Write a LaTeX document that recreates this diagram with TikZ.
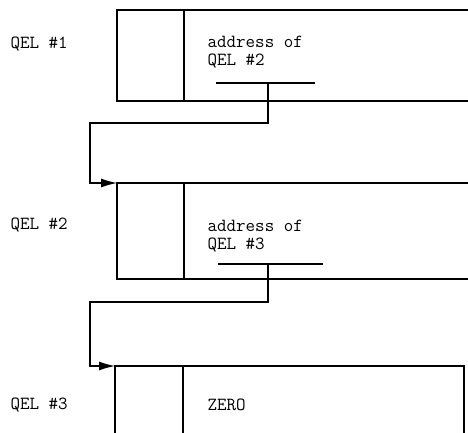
\documentclass[tikz,border=0pt]{standalone}
\usetikzlibrary{arrows.meta}
\begin{document}
\begin{tikzpicture}[x=1pt,y=-1pt,line width=1.2pt,
  txt/.style={font=\ttfamily\fontsize{18.5}{18}\selectfont,anchor=west,inner sep=0pt,align=left},
  link/.style={-{Latex[length=16pt,width=9pt]}}]
  \useasboundingbox (0,0) rectangle (468,433);

  % first element
  \node[txt] (name1) at (10,44) {QEL \#1};
  \draw (468,10) -- (117,10) -- (117,101) -- (468,101);
  \draw (184,10) -- (184,101);
  \node[txt] (addr1) at (207,52) {address of\\QEL \#2};
  \draw (216,83) -- (315,83);
  \coordinate (ptr1) at (268,83);

  % second element
  \node[txt] (name2) at (10,225) {QEL \#2};
  \draw (468,183) -- (117,183) -- (117,279) -- (468,279);
  \draw (184,183) -- (184,279);
  \node[txt] (addr2) at (207,236) {address of\\QEL \#3};
  \draw (218,264) -- (323,264);
  \coordinate (ptr2) at (268,264);

  % third element
  \node[txt] (name3) at (10,405) {QEL \#3};
  \draw (115,433) -- (115,366) -- (464,366) -- (464,433);
  \draw (183,366) -- (183,433);
  \node[txt] (zero3) at (207,405) {ZERO};

  % links
  \coordinate (bend1) at (90,123);
  \coordinate (in2) at (117,183);
  \draw[link] (ptr1) |- (bend1) |- (in2);
  \coordinate (bend2) at (90,302);
  \coordinate (in3) at (115,366);
  \draw[link] (ptr2) |- (bend2) |- (in3);
\end{tikzpicture}
\end{document}
